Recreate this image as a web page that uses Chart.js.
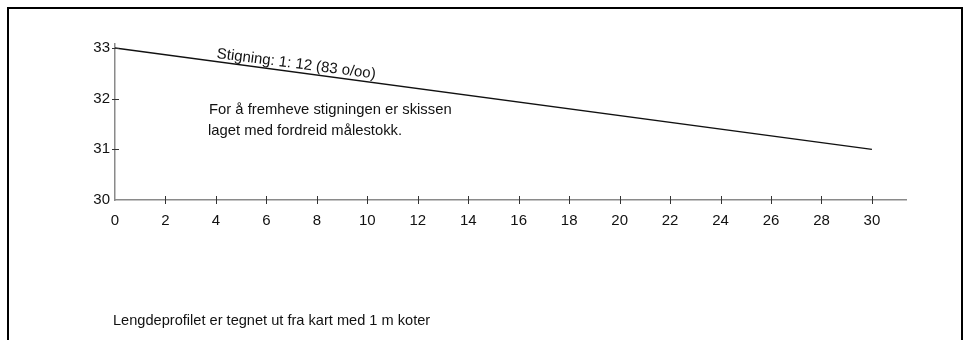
<!DOCTYPE html>
<html>
<head>
<meta charset="utf-8">
<script src="https://cdn.jsdelivr.net/npm/chart.js@4.4.1/dist/chart.umd.min.js"></script>
<style>
    html, body { margin: 0; padding: 0; background: #fff; overflow: hidden; }
    body { width: 964px; height: 340px; position: relative; font-family: "Liberation Sans", Arial, sans-serif; color: #111; }
    #frame {
        position: absolute; left: 7px; top: 7px; width: 952px; height: 400px;
        border: 2px solid #000;
    }
    #wrap { position: absolute; left: 0; top: 0; width: 964px; height: 340px; }
    .note { position: absolute; font-size: 14.8px; white-space: nowrap; line-height: 1; }
</style>
</head>
<body>
<div id="frame"></div>
<div id="wrap"><canvas id="chart"></canvas></div>
<div class="note" style="left:218px; top:45px; transform: rotate(7.4deg); transform-origin: left top; font-size:15px;">Stigning: 1: 12 (83 o/oo)</div>
<div class="note" style="left:209px; top:102px;">For å fremheve stigningen er skissen</div>
<div class="note" style="left:208px; top:123px;">laget med fordreid målestokk.</div>
<div class="note" style="left:113px; top:313px; font-size:14.6px;">Lengdeprofilet er tegnet ut fra kart med 1 m koter</div>
<script>
// profile: distance along the path vs elevation
const distance = [0, 30];
const elevation = [33, 31];
const xTicks = [0, 2, 4, 6, 8, 10, 12, 14, 16, 18, 20, 22, 24, 26, 28, 30];
const yTicks = [30, 31, 32, 33];

// little tick marks crossing the axes, like on the sketch
const crossTicks = {
    id: "crossTicks",
    afterDraw(chart) {
        const ctx = chart.ctx;
        const xs = chart.scales.x, ys = chart.scales.y;
        ctx.save();
        ctx.strokeStyle = "#333";
        ctx.lineWidth = 1;
        xs.ticks.forEach(t => {
            if (t.value === 0) return;
            const px = Math.round(xs.getPixelForValue(t.value)) + 0.5;
            ctx.beginPath();
            ctx.moveTo(px, ys.bottom - 4);
            ctx.lineTo(px, ys.bottom + 4);
            ctx.stroke();
        });
        ys.ticks.forEach(t => {
            if (t.value === 30) return;
            const py = Math.round(ys.getPixelForValue(t.value)) + 0.5;
            ctx.beginPath();
            ctx.moveTo(xs.left - 3, py);
            ctx.lineTo(xs.left + 4, py);
            ctx.stroke();
        });
        ctx.restore();
    }
};

const points = distance.map((d, i) => ({ x: d, y: elevation[i] }));

new Chart(document.getElementById("chart"), {
    type: "line",
    data: {
        datasets: [{
            data: points,
            borderColor: "#111",
            borderWidth: 1.4,
            pointRadius: 0,
            tension: 0,
            fill: false
        }]
    },
    options: {
        responsive: true,
        maintainAspectRatio: false,
        animation: false,
        layout: { padding: { left: 0, top: 44, right: 58, bottom: 110 } },
        plugins: { legend: { display: false }, tooltip: { enabled: false } },
        scales: {
            x: {
                type: "linear",
                min: 0,
                max: 31.35,
                afterBuildTicks: s => { s.ticks = xTicks.map(v => ({ value: v })); },
                afterFit: s => { s.height = 30; },
                grid: { display: false, drawTicks: false },
                border: { color: "#8a8a8a", width: 1.5 },
                ticks: {
                    padding: 12,
                    color: "#111",
                    font: { family: "Liberation Sans", size: 15 },
                    maxRotation: 0,
                    autoSkip: false
                }
            },
            y: {
                min: 30,
                max: 33.08,
                afterBuildTicks: s => { s.ticks = yTicks.map(v => ({ value: v })); },
                afterFit: s => { s.width = 115; },
                grid: { display: false, drawTicks: false },
                border: { color: "#8a8a8a", width: 1.5 },
                ticks: {
                    padding: 5,
                    color: "#111",
                    font: { family: "Liberation Sans", size: 15 },
                    autoSkip: false
                }
            }
        }
    },
    plugins: [crossTicks]
});
</script>
</body>
</html>
